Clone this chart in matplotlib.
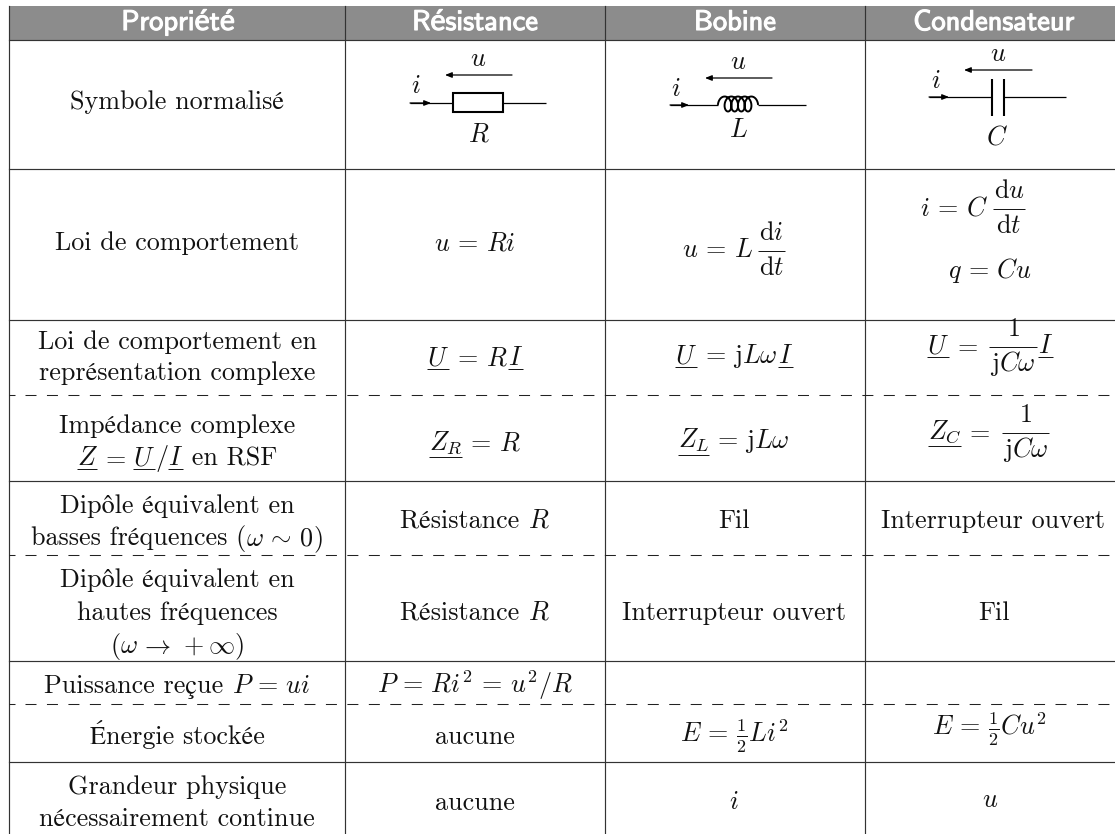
import matplotlib
matplotlib.use("Agg")
import matplotlib.pyplot as plt
import matplotlib.patheffects as pe
from matplotlib.patches import Rectangle
import numpy as np

plt.rcParams['mathtext.fontset'] = 'cm'
plt.rcParams['font.family'] = ['cmr10', 'STIXGeneral']
plt.rcParams['axes.unicode_minus'] = False
plt.rcParams['axes.formatter.use_mathtext'] = True

# table content
# "|" separates pieces so accents stay in the text font, a leading "~" underlines a piece,
# "@num@den" is a fraction set with more air than mathtext gives
headers = ["Propriété", "Résistance", "Bobine", "Condensateur"]
properties = [
    ["Symbole normalisé"],
    ["Loi de comportement"],
    ["Loi de comportement en", "représentation complexe"],
    ["Impédance complexe", r"~$Z$|$\,=\,$|~$U$|$/$|~$I$| en RSF"],
    ["Dipôle équivalent en", r"basses fréquences (|$\omega\,\sim\,0$|)"],
    ["Dipôle équivalent en", "hautes fréquences", r"($\omega\,\rightarrow\,+\infty$)"],
    [r"Puissance reçue |$P\,=\,ui$"],
    ["Énergie stockée"],
    ["Grandeur physique", "nécessairement continue"],
]
resistance = [r"$u\,=\,Ri$", r"~$U$|$\,=\,R$|~$I$", r"~~$Z_R$|$\,=\,R$",
              r"Résistance |$R$", r"Résistance |$R$", r"$P\,=\,Ri^2\,=\,u^2/R$", "aucune", "aucune"]
bobine = [r"$u\,=\,L$|@$\mathrm{d}i$@$\mathrm{d}t$", r"~$U$|$\,=\,\mathrm{j}L\omega$|~$I$",
          r"~~$Z_L$|$\,=\,\mathrm{j}L\omega$", "Fil", "Interrupteur ouvert",
          r"$E\,=\,\frac{1}{2}Li^2$", r"$i$"]
condensateur = [r"$i\,=\,C$|@$\mathrm{d}u$@$\mathrm{d}t$", r"$q\,=\,Cu$",
                r"~$U$|$\,=\,$|@$1$@$\mathrm{j}C\omega$|~$I$",
                r"~~$Z_C$|$\,=\,$|@$1$@$\mathrm{j}C\omega$",
                "Interrupteur ouvert", "Fil", r"$E\,=\,\frac{1}{2}Cu^2$", r"$u$"]

# layout, in pixels of the picture, y values are text baselines
W, H = 1115, 834
col_lines = [9, 345, 605, 865]
solid_rows = [40, 169, 320, 481, 661, 762]
dashed_rows = [395, 555, 704]
header_x = [178, 475, 735, 994]
prop_y = [[109], [250], [349, 380], [433, 465], [513, 545], [587, 620, 653], [693], [744], [794, 826]]
res_y = [250, 365, 450, 528, 620, 693, 744, 810]
bob_y = [257, 363, 448, 528, 620, 743, 809]
con_y = [215, 278, 353, 439, 528, 620, 736, 807]
con_x = [973, 990, 990, 989, 993, 994, 989, 990]
LINE = '#333333'
TXT = '#111111'
FS = 18.8

fig = plt.figure(figsize=(W / 100, H / 100), dpi=100)
ax = fig.add_axes([0, 0, 1, 1])
ax.set_xlim(0, W)
ax.set_ylim(H, 0)
ax.axis('off')
renderer = fig.canvas.get_renderer()

# header band
ax.add_patch(Rectangle((9, 6), W - 9, 34, color='#8c8c8c', lw=0, zorder=1))
for x, s in zip(header_x, headers):
    ax.text(x, 30, s, color='white', fontsize=20.5, ha='center', va='baseline',
            family=['cmss10', 'Lato'], zorder=4,
            path_effects=[pe.withStroke(linewidth=0.8, foreground='white')])

# rules
for x in col_lines:
    ax.plot([x, x], [6, H], color=LINE, lw=0.85, zorder=2)
for y in solid_rows:
    ax.plot([9, W], [y, y], color=LINE, lw=0.85, zorder=2)
for y in dashed_rows:
    ax.plot([9, 14.5], [y, y], color='#222222', lw=0.75, zorder=2, solid_capstyle='butt')
    ax.plot([25, 1110], [y, y], color='#222222', lw=0.75, zorder=2, dashes=(10.56, 10.04),
            dash_capstyle='butt')


def label(x, y, s, ha='left'):
    return ax.text(x, y, s, color=TXT, fontsize=FS, ha=ha, va='baseline', zorder=3)


def rule(x0, x1, y):
    ax.plot([x0, x1], [y, y], color=TXT, lw=0.7, zorder=3, solid_capstyle='butt')


def cell(x, y, s):
    # one text object per piece, the pieces centred together on x
    parts = s.split('|')
    items = []
    for part in parts:
        if part.startswith('@'):
            _, num, den = part.split('@')
            top = label(0, y - 17, num, ha='center')
            bottom = label(0, y + 18, den, ha='center')
            body = max(top.get_window_extent(renderer).width,
                       bottom.get_window_extent(renderer).width) + 2
            items.append((part, [top, bottom], body + 6))
        else:
            piece = label(0, y, part.lstrip('~'))
            width = piece.get_window_extent(renderer).width
            if part.endswith(r'\,$'):
                width += 6
            items.append((part, [piece], width))
    left = x - sum(item[2] for item in items) / 2
    for part, texts, width in items:
        if part.startswith('@'):
            for t in texts:
                t.set_x(left + 5 + (width - 6) / 2)
            rule(left + 5, left + width - 1, y - 6.5)
        else:
            texts[0].set_x(left)
            if part.startswith('~'):
                drop = 7 if part.startswith('~~') else 4
                rule(left, left + width, y + drop)
        left += width


for lines, ys in zip(properties, prop_y):
    for s, y in zip(lines, ys):
        cell(177, y, s)
for s, y in zip(resistance, res_y):
    cell(475, y, s)
for s, y in zip(bobine, bob_y):
    cell(734, y, s)
for s, y, x in zip(condensateur, con_y, con_x):
    cell(x, y, s)


def arrow(x0, x1, y):
    ax.annotate('', xy=(x1, y), xytext=(x0, y), zorder=3,
                arrowprops=dict(arrowstyle='-|>,head_length=0.4,head_width=0.16', color='black',
                                lw=0.9, shrinkA=0, shrinkB=0))


def wire(xs, ys, lw=0.9):
    ax.plot(xs, ys, color='black', lw=lw, zorder=3, solid_capstyle='butt')


# resistor symbol
wire([410, 453], [103, 103])
wire([503, 546], [103, 103])
ax.add_patch(Rectangle((453, 93), 50, 19, fc='white', ec='black', lw=1.5, zorder=3))
arrow(410, 431, 103)
arrow(512, 445, 75)
cell(478, 66, r"$u$")
cell(416, 93, r"$i$")
cell(479, 141, r"$R$")

# coil symbol
wire([670, 718], [105, 105])
wire([758, 806], [105, 105])
theta = np.linspace(0, 9 * np.pi, 500)
coil_x = 723 + 30 * theta / theta[-1] - 5 * np.cos(theta)
coil_y = 104 - 7.5 * np.sin(theta)
ax.plot(coil_x, coil_y, color='black', lw=1.4, zorder=3)
arrow(670, 689, 105)
arrow(772, 705, 78)
cell(738, 69, r"$u$")
cell(676, 96, r"$i$")
cell(738, 137, r"$L$")

# capacitor symbol
wire([929, 992], [97, 97])
wire([1004, 1066], [97, 97])
wire([992, 992], [79, 116], lw=1.5)
wire([1004, 1004], [79, 116], lw=1.5)
arrow(929, 949, 97)
arrow(1032, 964, 70)
cell(998, 61, r"$u$")
cell(936, 88, r"$i$")
cell(997, 144, r"$C$")

fig.savefig('out.png', dpi=100)
